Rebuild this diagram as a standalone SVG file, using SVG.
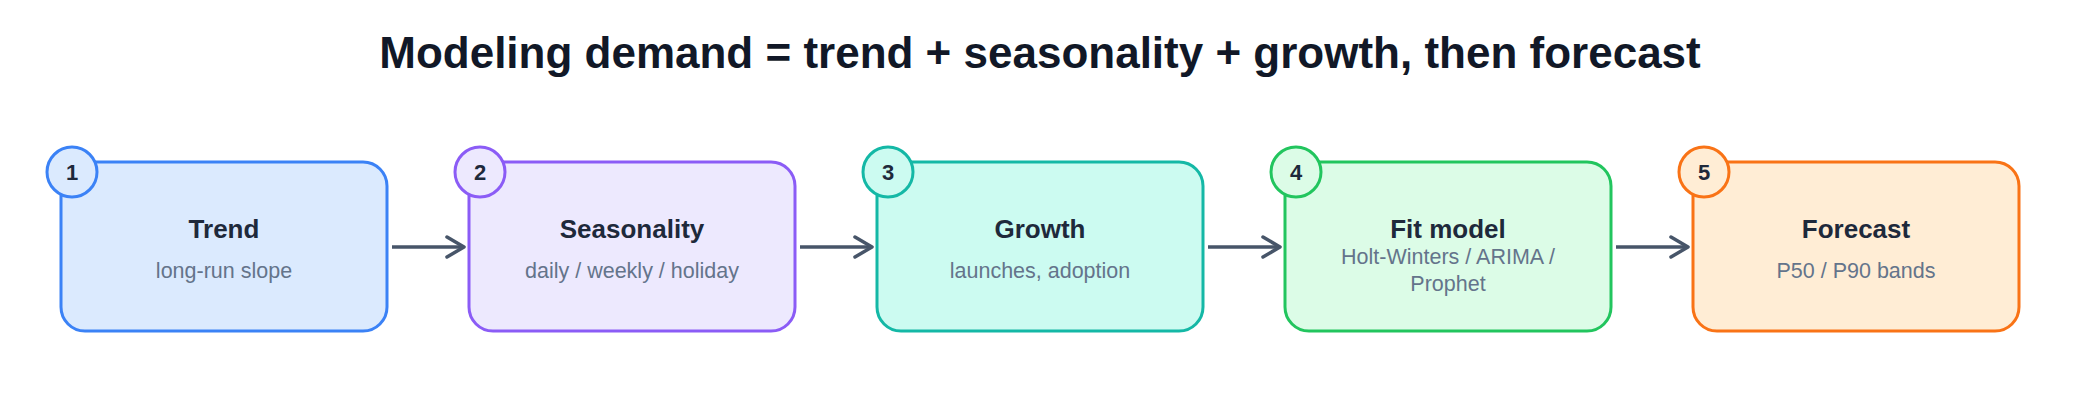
<svg xmlns="http://www.w3.org/2000/svg" width="2080" height="420" viewBox="0 0 2080 420">
  <style>
    .title { font-family: "Liberation Sans", Arial, sans-serif; font-size: 44px; font-weight: bold; fill: #111827; }
    .box { stroke-width: 3; }
    .badge { stroke-width: 3; }
    .num { font-family: "Liberation Sans", Arial, sans-serif; font-size: 22px; font-weight: bold; fill: #1e293b; text-anchor: middle; }
    .ntitle { font-family: "Liberation Sans", Arial, sans-serif; font-size: 26px; font-weight: bold; fill: #1e293b; text-anchor: middle; }
    .nsub { font-family: "Liberation Sans", Arial, sans-serif; font-size: 21.5px; fill: #64748b; text-anchor: middle; }
    .edge { stroke: #475569; stroke-width: 3.5; fill: none; }
  </style>
  <defs>
    <marker id="arrow" markerUnits="userSpaceOnUse" markerWidth="24" markerHeight="26" refX="19" refY="13" orient="auto">
      <path d="M 2 3 L 19 13 L 2 23" fill="none" stroke="#475569" stroke-width="3.5" stroke-linecap="round" stroke-linejoin="round"/>
    </marker>
  </defs>
  <rect width="2080" height="420" fill="#ffffff"/>
  <text class="title" x="1040" y="68" text-anchor="middle">Modeling demand = trend + seasonality + growth, then forecast</text>

  <g id="connectors">
    <line class="edge" x1="392" y1="247" x2="464" y2="247" marker-end="url(#arrow)"/>
    <line class="edge" x1="800" y1="247" x2="872" y2="247" marker-end="url(#arrow)"/>
    <line class="edge" x1="1208" y1="247" x2="1280" y2="247" marker-end="url(#arrow)"/>
    <line class="edge" x1="1616" y1="247" x2="1688" y2="247" marker-end="url(#arrow)"/>
  </g>

  <g id="node1">
    <rect class="box" x="61" y="162" width="326" height="169" rx="24" fill="#dbeafe" stroke="#3b82f6"/>
    <circle class="badge" cx="72" cy="172" r="25" fill="#dbeafe" stroke="#3b82f6"/>
    <text class="num" x="72" y="179.5">1</text>
    <text class="ntitle" x="224" y="237.5">Trend</text>
    <text class="nsub" x="224" y="277.5">long-run slope</text>
  </g>

  <g id="node2">
    <rect class="box" x="469" y="162" width="326" height="169" rx="24" fill="#ede9fe" stroke="#8b5cf6"/>
    <circle class="badge" cx="480" cy="172" r="25" fill="#ede9fe" stroke="#8b5cf6"/>
    <text class="num" x="480" y="179.5">2</text>
    <text class="ntitle" x="632" y="237.5">Seasonality</text>
    <text class="nsub" x="632" y="277.5">daily / weekly / holiday</text>
  </g>

  <g id="node3">
    <rect class="box" x="877" y="162" width="326" height="169" rx="24" fill="#ccfbf1" stroke="#14b8a6"/>
    <circle class="badge" cx="888" cy="172" r="25" fill="#ccfbf1" stroke="#14b8a6"/>
    <text class="num" x="888" y="179.5">3</text>
    <text class="ntitle" x="1040" y="237.5">Growth</text>
    <text class="nsub" x="1040" y="277.5">launches, adoption</text>
  </g>

  <g id="node4">
    <rect class="box" x="1285" y="162" width="326" height="169" rx="24" fill="#dcfce7" stroke="#22c55e"/>
    <circle class="badge" cx="1296" cy="172" r="25" fill="#dcfce7" stroke="#22c55e"/>
    <text class="num" x="1296" y="179.5">4</text>
    <text class="ntitle" x="1448" y="237.5">Fit model</text>
    <text class="nsub" x="1448" y="263.5">Holt-Winters / ARIMA /</text>
    <text class="nsub" x="1448" y="291">Prophet</text>
  </g>

  <g id="node5">
    <rect class="box" x="1693" y="162" width="326" height="169" rx="24" fill="#ffedd5" stroke="#f97316"/>
    <circle class="badge" cx="1704" cy="172" r="25" fill="#ffedd5" stroke="#f97316"/>
    <text class="num" x="1704" y="179.5">5</text>
    <text class="ntitle" x="1856" y="237.5">Forecast</text>
    <text class="nsub" x="1856" y="277.5">P50 / P90 bands</text>
  </g>
</svg>
